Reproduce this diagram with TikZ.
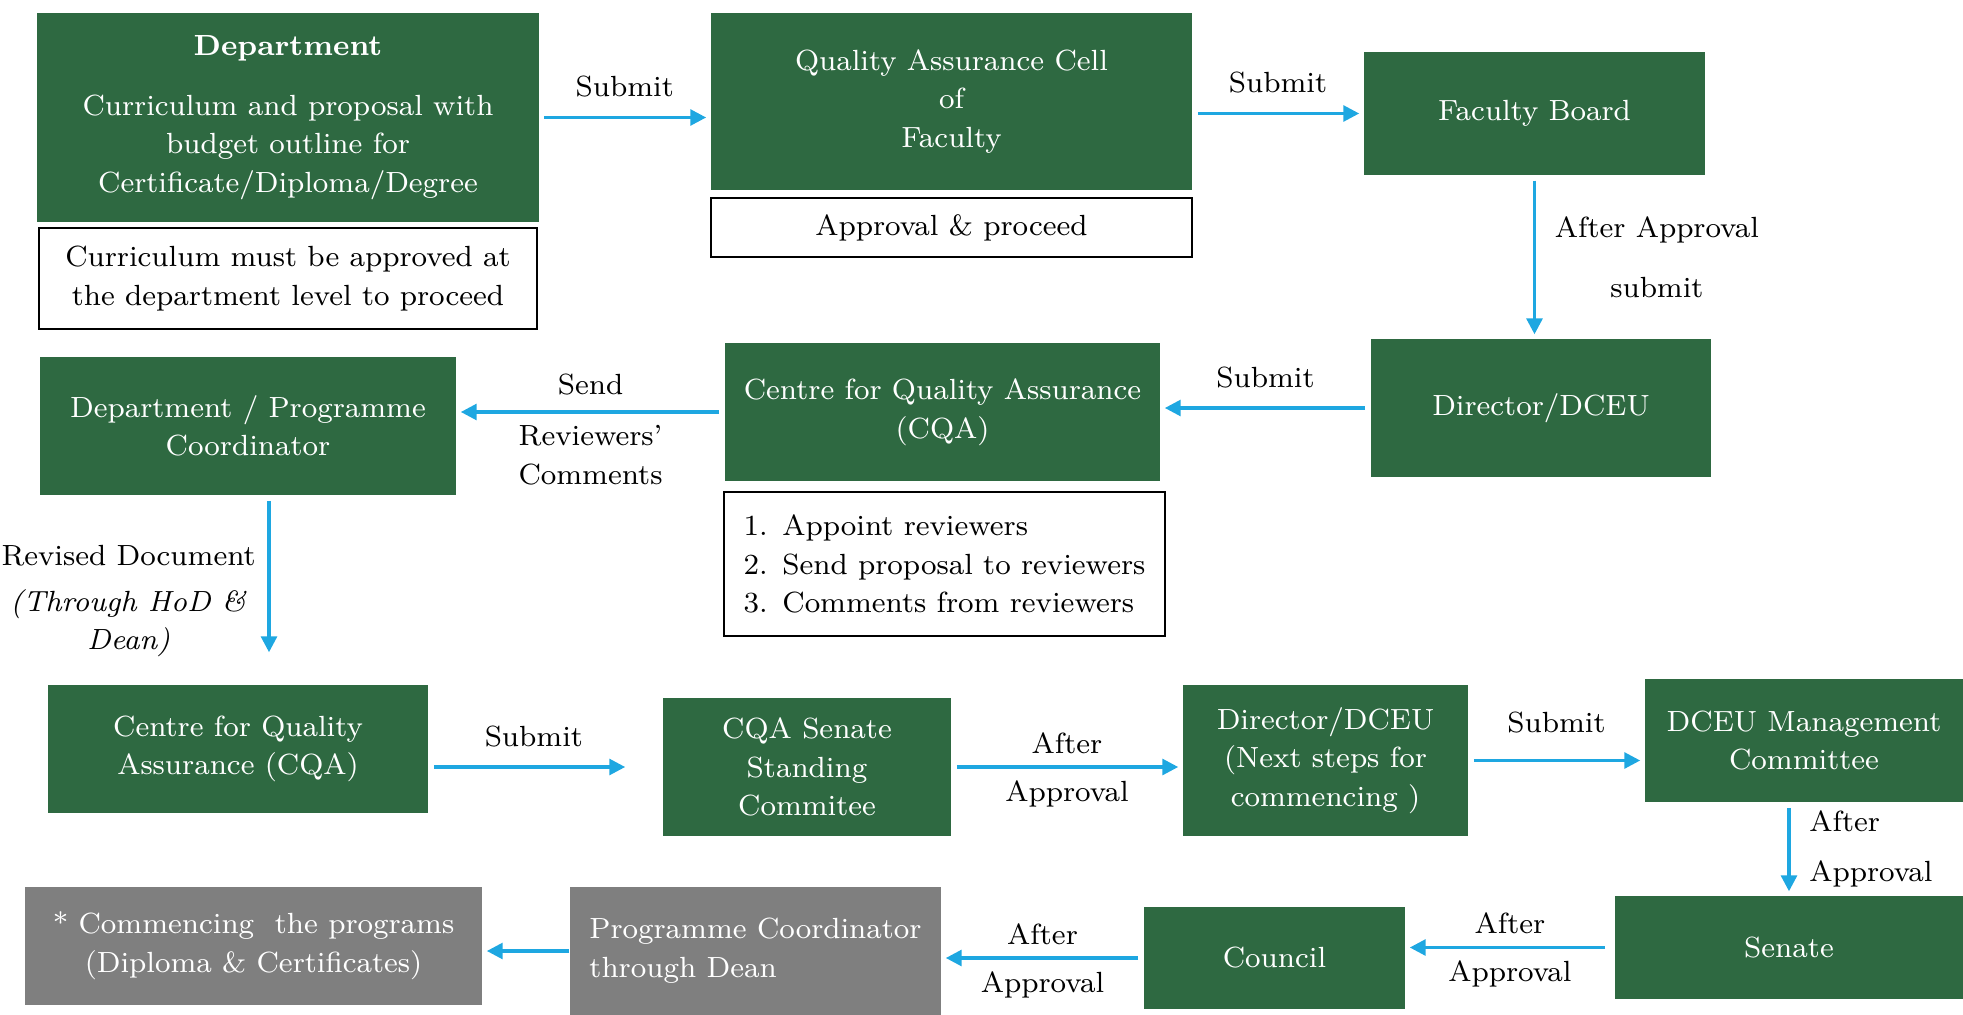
\documentclass[tikz,border=0pt]{standalone}
\usetikzlibrary{arrows.meta}
\definecolor{boxgreen}{RGB}{46,105,65}
\definecolor{boxgrey}{RGB}{127,127,127}
\definecolor{flowblue}{RGB}{30,167,225}
\newcommand{\stepno}[1]{\makebox[11pt][l]{#1}}
\tikzset{
  gbox/.style={fill=boxgreen,text=white,align=center,inner sep=0pt},
  greybox/.style={fill=boxgrey,text=white,inner sep=0pt},
  notebox/.style={draw=black,line width=0.6pt,align=center,inner sep=0pt},
  flow/.style={draw=flowblue,line width=0.9pt,shorten <=0.05cm,shorten >=0.04cm,
    -{Triangle[length=4.5pt,width=4.5pt]}},
}

\begin{document}
\begin{tikzpicture}[x=0.01cm,y=-0.01cm,font=\fontsize{8.3}{11}\selectfont]
  \useasboundingbox (0,0) rectangle (1963,1015);
  % first row
  \node[gbox,minimum width=5.01cm,minimum height=2.09cm] (dept) at (288,117.5)
    {\textbf{Department}\\[6pt]Curriculum and proposal with\\budget outline for\\Certificate/Diploma/Degree};
  \node[notebox,minimum width=4.98cm,minimum height=1.01cm] (deptnote) at (288,278.5)
    {Curriculum must be approved at\\the department level to proceed};
  \node[gbox,minimum width=4.81cm,minimum height=1.77cm] (qac) at (951.5,101.5)
    {Quality Assurance Cell\\of\\Faculty};
  \node[notebox,minimum width=4.81cm,minimum height=0.59cm] (qacnote) at (951.5,227.5)
    {Approval \& proceed};
  \node[gbox,minimum width=3.41cm,minimum height=1.23cm] (facb) at (1534.5,113.5) {Faculty Board};
  % second row
  \node[gbox,minimum width=3.40cm,minimum height=1.38cm] (dir1) at (1541,408) {Director/DCEU};
  \node[gbox,minimum width=4.35cm,minimum height=1.38cm] (cqa) at (942.5,412)
    {Centre for Quality Assurance\\(CQA)};
  \node[notebox,align=left,minimum width=4.41cm,minimum height=1.44cm] (cqanote) at (944.5,564)
    {\stepno{1.}Appoint reviewers\\\stepno{2.}Send proposal to reviewers\\\stepno{3.}Comments from reviewers};
  \node[gbox,minimum width=4.16cm,minimum height=1.38cm] (dpc) at (248,426)
    {Department / Programme\\Coordinator};
  % third row
  \node[gbox,minimum width=3.80cm,minimum height=1.28cm] (cqa2) at (238,749)
    {Centre for Quality\\Assurance (CQA)};
  \node[gbox,minimum width=2.88cm,minimum height=1.38cm] (css) at (807,767)
    {CQA Senate\\Standing\\Commitee};
  \node[gbox,minimum width=2.85cm,minimum height=1.51cm] (dir2) at (1325.5,760.5)
    {Director/DCEU\\(Next steps for\\commencing )};
  \node[gbox,minimum width=3.18cm,minimum height=1.23cm] (dmc) at (1804,740.5)
    {DCEU Management\\Committee};
  % fourth row
  \node[gbox,minimum width=3.48cm,minimum height=1.03cm] (senate) at (1789,947.5) {Senate};
  \node[gbox,minimum width=2.61cm,minimum height=1.02cm] (council) at (1274.5,958) {Council};
  \node[greybox,align=left,minimum width=3.71cm,minimum height=1.28cm] (pcd) at (755.5,951)
    {Programme Coordinator\\through Dean};
  \node[greybox,align=center,minimum width=4.57cm,minimum height=1.18cm] (comm) at (253.5,946)
    {* Commencing\ \ the programs\\(Diploma \& Certificates)};

  \draw[flow] (dept.east) -- (dept.east -| qac.west) node[midway,above=2pt] {Submit};
  \draw[flow] (qac.east |- facb.west) -- (facb.west) node[midway,above=2pt] {Submit};
  \draw[flow] (facb.south) -- (facb.south |- dir1.north)
    node[midway,right=2pt,align=center] {After Approval\\[6pt]submit};
  \draw[flow] (dir1.west) -- (dir1.west -| cqa.east) node[midway,above=2pt] {Submit};
  \draw[flow] (cqa.west) -- (cqa.west -| dpc.east) node[midway,above=1pt] {Send}
    node[midway,below,align=center] {Reviewers'\\Comments};
  \draw[flow,shorten >=0.32cm] ([xshift=0.21cm]dpc.south) -- ([xshift=0.21cm]dpc.south |- cqa2.north)
    node[pos=0.56,left=0pt,align=center] {Revised Document\\[2pt]\textit{(Through HoD \&}\\\textit{Dean)}};
  \draw[flow,shorten >=0.37cm] (cqa2.east |- css.west) -- (css.west) node[pos=0.45,above=2pt] {Submit};
  \draw[flow] (css.east) -- (css.east -| dir2.west) node[midway,above] {After} node[midway,below] {Approval};
  \draw[flow] (dir2.east) -- (dir2.east -| dmc.west) node[midway,above=4pt] {Submit};
  \draw[flow] (senate.north |- dmc.south) -- (senate.north)
    node[midway,right=2pt,align=left] {After\\[3pt]Approval};
  \draw[flow,shorten <=0.09cm] (senate.west) -- (senate.west -| council.east)
    node[midway,above] {After} node[midway,below] {Approval};
  \draw[flow] (council.west) -- (council.west -| pcd.east) node[midway,above] {After} node[midway,below] {Approval};
  \draw[flow,shorten <=0pt] (pcd.west) -- (pcd.west -| comm.east);
\end{tikzpicture}
\end{document}
